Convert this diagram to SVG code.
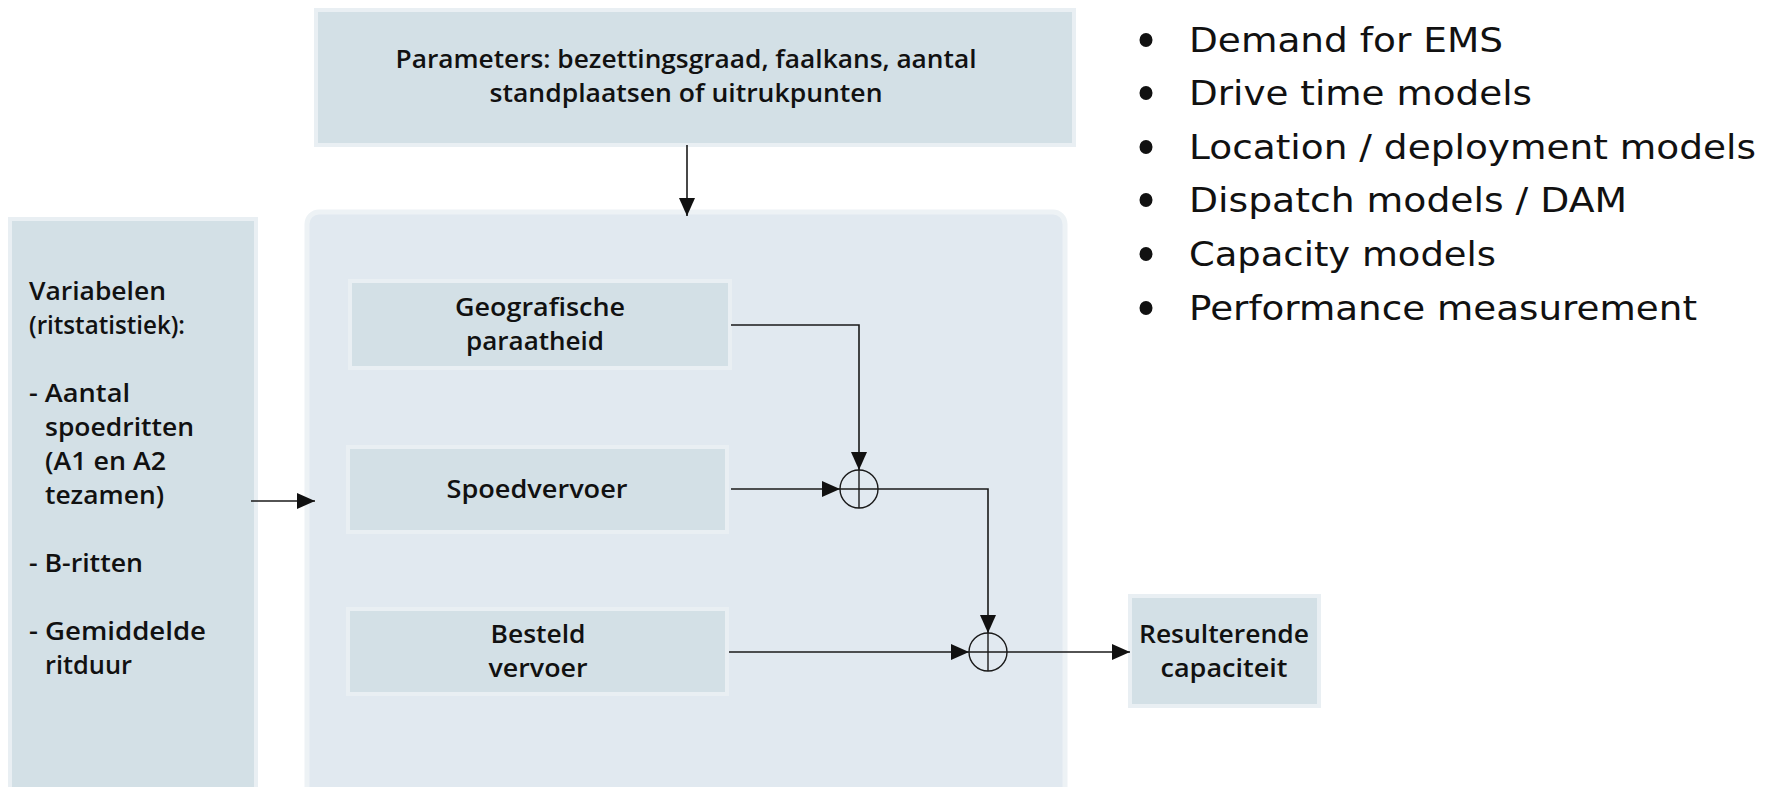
<svg xmlns="http://www.w3.org/2000/svg" width="1775" height="787" viewBox="0 0 1775 787">
<style>
.box{fill:#d3e0e6;stroke:#e9eff3;stroke-width:4}
.cont{fill:#e1e9f0;stroke:#edf2f5;stroke-width:5}
.t{font-family:"Open Sans","Liberation Sans",sans-serif;font-weight:600;font-size:26px;fill:#111}
.tc{text-anchor:middle}
.b{font-family:"DejaVu Sans","Liberation Sans",sans-serif;font-size:34px;fill:#111}
.ln{fill:none;stroke:#1a1a1a;stroke-width:1.6}
.sum{fill:none;stroke:#1a1a1a;stroke-width:1.4}
</style>
<defs>
<marker id="ah" markerUnits="userSpaceOnUse" markerWidth="18" markerHeight="16" viewBox="0 0 18 16" refX="18" refY="8" orient="auto">
<path d="M0,0 L18,8 L0,16 Z" fill="#111"/>
</marker>
</defs>
<rect width="1775" height="787" fill="#fff"/>

<g id="node-container">
<rect class="cont" x="307" y="212" width="758" height="600" rx="12"/>
</g>

<g id="node-parameters">
<rect class="box" x="316" y="10" width="758" height="135"/>
<text class="t tc" x="686" y="68" textLength="581" lengthAdjust="spacingAndGlyphs">Parameters: bezettingsgraad, faalkans, aantal</text>
<text class="t tc" x="686" y="102" textLength="393" lengthAdjust="spacingAndGlyphs">standplaatsen of uitrukpunten</text>
</g>

<g id="node-variabelen">
<rect class="box" x="10" y="219" width="246" height="590"/>
<text class="t" x="29" y="300" textLength="137" lengthAdjust="spacingAndGlyphs">Variabelen</text>
<text class="t" x="29" y="334" textLength="156" lengthAdjust="spacingAndGlyphs">(ritstatistiek):</text>
<text class="t" x="29" y="402" textLength="101" lengthAdjust="spacingAndGlyphs">- Aantal</text>
<text class="t" x="45" y="436" textLength="149" lengthAdjust="spacingAndGlyphs">spoedritten</text>
<text class="t" x="45" y="470" textLength="121" lengthAdjust="spacingAndGlyphs">(A1 en A2</text>
<text class="t" x="45" y="504" textLength="119" lengthAdjust="spacingAndGlyphs">tezamen)</text>
<text class="t" x="29" y="572" textLength="114" lengthAdjust="spacingAndGlyphs">- B-ritten</text>
<text class="t" x="29" y="640" textLength="177" lengthAdjust="spacingAndGlyphs">- Gemiddelde</text>
<text class="t" x="45" y="674" textLength="87" lengthAdjust="spacingAndGlyphs">ritduur</text>
</g>

<g id="node-geografische">
<rect class="box" x="350" y="281" width="380" height="87"/>
<text class="t tc" x="540" y="316" textLength="170" lengthAdjust="spacingAndGlyphs">Geografische</text>
<text class="t tc" x="535" y="350" textLength="138" lengthAdjust="spacingAndGlyphs">paraatheid</text>
</g>

<g id="node-spoedvervoer">
<rect class="box" x="348" y="447" width="379" height="85"/>
<text class="t tc" x="537" y="498" textLength="181" lengthAdjust="spacingAndGlyphs">Spoedvervoer</text>
</g>

<g id="node-besteld">
<rect class="box" x="348" y="609" width="379" height="85"/>
<text class="t tc" x="538" y="643" textLength="95" lengthAdjust="spacingAndGlyphs">Besteld</text>
<text class="t tc" x="538" y="677" textLength="99" lengthAdjust="spacingAndGlyphs">vervoer</text>
</g>

<g id="node-resulterende">
<rect class="box" x="1130" y="596" width="189" height="110"/>
<text class="t tc" x="1224" y="643" textLength="170" lengthAdjust="spacingAndGlyphs">Resulterende</text>
<text class="t tc" x="1224" y="677" textLength="127" lengthAdjust="spacingAndGlyphs">capaciteit</text>
</g>

<g id="node-sum1">
<ellipse class="sum" cx="859" cy="489" rx="19" ry="19"/>
<line class="sum" x1="840" y1="489" x2="878" y2="489"/>
<line class="sum" x1="859" y1="470" x2="859" y2="508"/>
</g>

<g id="node-sum2">
<ellipse class="sum" cx="988" cy="652" rx="19" ry="19"/>
<line class="sum" x1="969" y1="652" x2="1007" y2="652"/>
<line class="sum" x1="988" y1="633" x2="988" y2="671"/>
</g>

<g id="connectors">
<path class="ln" d="M687,145 L687,216" marker-end="url(#ah)"/>
<path class="ln" d="M251,501 L315,501" marker-end="url(#ah)"/>
<path class="ln" d="M731,325 L859,325 L859,470" marker-end="url(#ah)"/>
<path class="ln" d="M731,489 L840,489" marker-end="url(#ah)"/>
<path class="ln" d="M878,489 L988,489 L988,633" marker-end="url(#ah)"/>
<path class="ln" d="M729,652 L969,652" marker-end="url(#ah)"/>
<path class="ln" d="M1007,652 L1130,652" marker-end="url(#ah)"/>
</g>

<g id="bullets">
<ellipse cx="1146" cy="40" rx="6.5" ry="7" fill="#111"/>
<ellipse cx="1146" cy="93" rx="6.5" ry="7" fill="#111"/>
<ellipse cx="1146" cy="147" rx="6.5" ry="7" fill="#111"/>
<ellipse cx="1146" cy="200" rx="6.5" ry="7" fill="#111"/>
<ellipse cx="1146" cy="254" rx="6.5" ry="7" fill="#111"/>
<ellipse cx="1146" cy="308" rx="6.5" ry="7" fill="#111"/>
<text class="b" x="1189" y="52" textLength="314" lengthAdjust="spacingAndGlyphs">Demand for EMS</text>
<text class="b" x="1189" y="105" textLength="343" lengthAdjust="spacingAndGlyphs">Drive time models</text>
<text class="b" x="1189" y="159" textLength="567" lengthAdjust="spacingAndGlyphs">Location / deployment models</text>
<text class="b" x="1189" y="212" textLength="438" lengthAdjust="spacingAndGlyphs">Dispatch models / DAM</text>
<text class="b" x="1189" y="266" textLength="307" lengthAdjust="spacingAndGlyphs">Capacity models</text>
<text class="b" x="1189" y="320" textLength="508" lengthAdjust="spacingAndGlyphs">Performance measurement</text>
</g>
</svg>
